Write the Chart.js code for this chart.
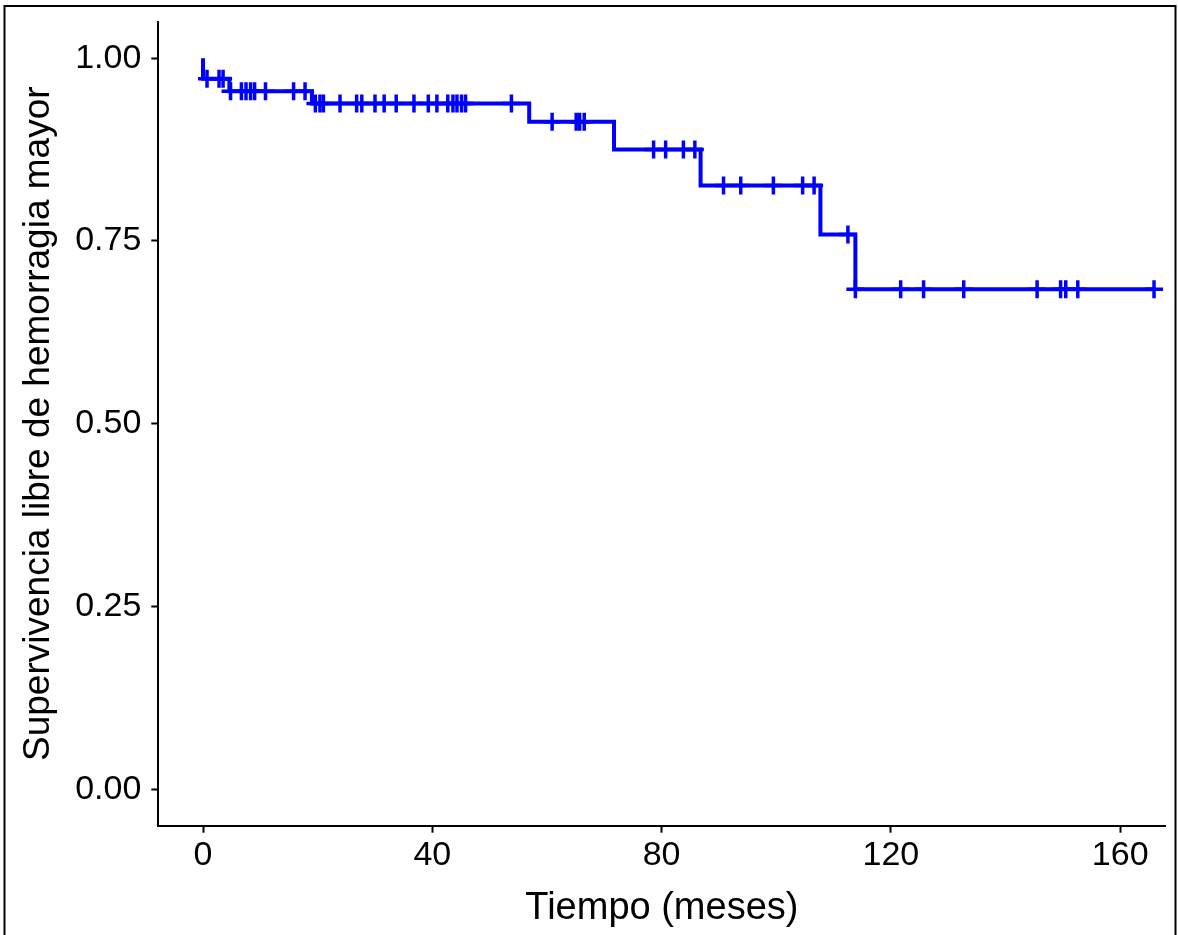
<!DOCTYPE html>
<html>
<head>
<meta charset="utf-8">
<script src="https://cdn.jsdelivr.net/npm/chart.js@4.4.1/dist/chart.umd.min.js"></script>
<style>
    body { margin: 0; background: #fff; }
    #wrap { position: absolute; left: 0; top: 0; width: 1178px; height: 935px; }
</style>
</head>
<body>
<div id="wrap"><canvas id="kmChart" width="1178" height="935"></canvas></div>
<script>
// tiempos de evento (meses) y supervivencia tras cada evento
const eventTimes = [0, 0, 4.6, 19.0, 56.9, 71.7, 86.8, 107.7, 113.8];
const survival = [1.0, 0.972, 0.955, 0.938, 0.913, 0.875, 0.826, 0.759, 0.684];
const lastTime = 165.9;

// tiempos censurados (marcas +)
const censorTimes = [
    0.7, 2.8, 3.5,
    4.8, 6.7, 7.5, 8.3, 9.0, 10.9, 15.8, 17.8,
    19.6, 20.4, 21.0, 23.9, 26.8, 27.7, 30.0, 31.6, 33.7, 36.8, 39.3, 40.8,
    42.7, 43.6, 44.3, 45.1, 45.8, 53.8,
    60.9, 65.1, 65.7, 66.5,
    78.6, 80.7, 83.8, 85.8,
    90.8, 93.8, 99.5, 104.6, 106.6,
    112.5,
    113.8, 121.7, 125.7, 132.7, 145.5, 149.6, 150.5, 152.6, 165.9
];

const xTicks = [0, 40, 80, 120, 160];
const yTicks = [0, 0.25, 0.5, 0.75, 1.0];

function survivalAt(t) {
    let s = survival[0];
    for (let i = 0; i < eventTimes.length; i++) {
        if (t >= eventTimes[i]) s = survival[i];
    }
    return s;
}

const curve = eventTimes.map((t, i) => ({ x: t, y: survival[i] }));
curve.push({ x: lastTime, y: survival[survival.length - 1] });

const censored = censorTimes.map(t => ({ x: t, y: survivalAt(t) }));

const BLUE = '#0000ff';
const FONT = 'Arial, "Liberation Sans", sans-serif';

// marco negro exterior
const framePlugin = {
    id: 'frame',
    afterDraw(chart) {
        const ctx = chart.ctx;
        ctx.save();
        ctx.strokeStyle = '#000';
        ctx.lineWidth = 2;
        ctx.strokeRect(4.5, 6, 1171, 1000);
        ctx.restore();
    }
};

function fixX(scale) {
    scale.height = 935 - 825.7;
    scale.paddingLeft = 0;
    scale.paddingRight = 0;
}
function fixY(scale) {
    scale.width = 158.3;
    scale.paddingTop = 0;
    scale.paddingBottom = 0;
}

new Chart(document.getElementById('kmChart'), {
    type: 'line',
    data: {
        datasets: [
            {
                label: 'curva',
                data: curve,
                borderColor: BLUE,
                borderWidth: 4,
                stepped: 'before',
                pointRadius: 0,
                fill: false,
                order: 1
            },
            {
                type: 'scatter',
                label: 'censura',
                data: censored,
                borderColor: BLUE,
                backgroundColor: BLUE,
                borderWidth: 3.5,
                pointStyle: 'cross',
                pointRadius: 9,
                pointBorderWidth: 3.5,
                order: 0
            }
        ]
    },
    options: {
        responsive: false,
        animation: false,
        devicePixelRatio: 1,
        layout: { padding: { left: 0, top: 21.7, right: 8.7, bottom: 0 } },
        plugins: {
            legend: { display: false },
            tooltip: { enabled: false }
        },
        scales: {
            x: {
                type: 'linear',
                min: -7.8,
                max: 167.9,
                afterBuildTicks: s => { s.ticks = xTicks.map(v => ({ value: v })); },
                afterFit: fixX,
                border: { display: true, color: '#000', width: 2 },
                grid: { drawOnChartArea: false, drawTicks: true, tickLength: 7, tickColor: '#000', tickWidth: 2 },
                ticks: {
                    color: '#000',
                    font: { family: FONT, size: 34 },
                    padding: 3,
                    maxRotation: 0,
                    callback: v => String(v)
                },
                title: {
                    display: true,
                    text: 'Tiempo (meses)',
                    color: '#000',
                    font: { family: FONT, size: 38 },
                    padding: { top: 0, bottom: 4 }
                }
            },
            y: {
                type: 'linear',
                min: -0.05,
                max: 1.05,
                afterBuildTicks: s => { s.ticks = yTicks.map(v => ({ value: v })); },
                afterFit: fixY,
                border: { display: true, color: '#000', width: 2 },
                grid: { drawOnChartArea: false, drawTicks: true, tickLength: 7, tickColor: '#000', tickWidth: 2 },
                ticks: {
                    color: '#000',
                    font: { family: FONT, size: 34 },
                    padding: 10,
                    callback: v => v.toFixed(2)
                },
                title: {
                    display: true,
                    text: 'Supervivencia libre de hemorragia mayor',
                    color: '#000',
                    font: { family: FONT, size: 37 },
                    padding: { top: 17, bottom: 0 }
                }
            }
        }
    },
    plugins: [framePlugin]
});
</script>
</body>
</html>
